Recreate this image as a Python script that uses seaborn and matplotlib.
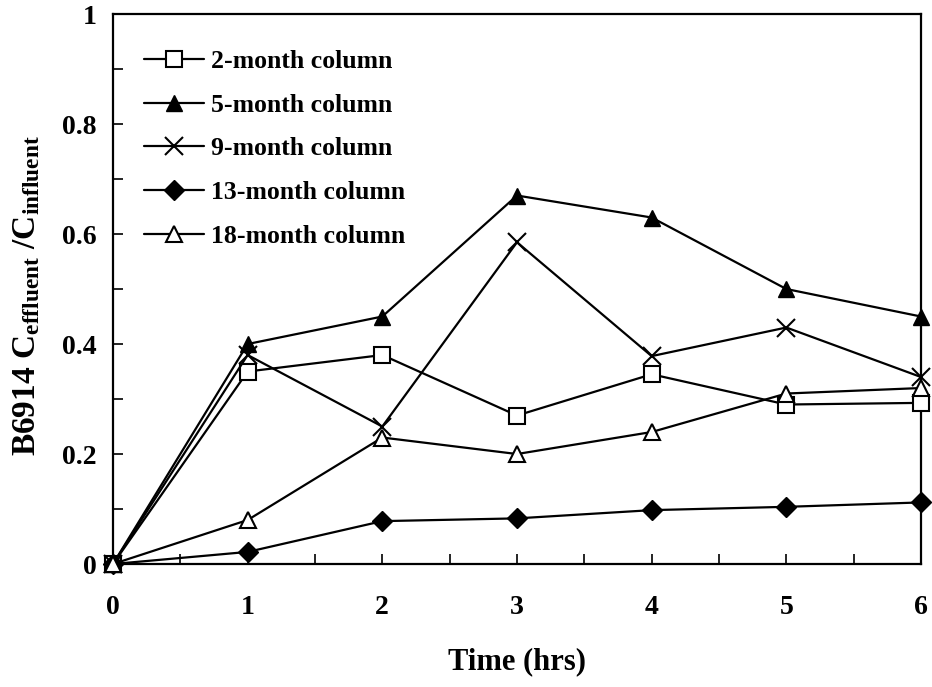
import numpy as np
import pandas as pd
import matplotlib
matplotlib.use("Agg")
import matplotlib.pyplot as plt
import seaborn as sns

# Sampling times (hrs)
time_hrs = [0, 1, 2, 3, 4, 5, 6]

# Effluent/influent concentration ratio for each column age
col_2_month = [0.0, 0.35, 0.38, 0.27, 0.345, 0.29, 0.293]
col_5_month = [0.0, 0.40, 0.45, 0.67, 0.63, 0.50, 0.45]
col_9_month = [0.0, 0.38, 0.25, 0.585, 0.378, 0.43, 0.34]
col_13_month = [0.0, 0.022, 0.078, 0.083, 0.098, 0.104, 0.112]
col_18_month = [0.0, 0.08, 0.23, 0.20, 0.24, 0.31, 0.32]

series_labels = ["2-month column", "5-month column", "9-month column",
                 "13-month column", "18-month column"]
series_values = [col_2_month, col_5_month, col_9_month, col_13_month, col_18_month]

sns.set_theme(style="white")
plt.rcParams["font.family"] = ["Liberation Serif", "DejaVu Serif"]
plt.rcParams["font.weight"] = "bold"
plt.rcParams["text.color"] = "black"
plt.rcParams["axes.labelcolor"] = "black"
plt.rcParams["mathtext.fontset"] = "custom"
plt.rcParams["mathtext.rm"] = "Liberation Serif:bold"
plt.rcParams["mathtext.it"] = "Liberation Serif:bold"
plt.rcParams["mathtext.bf"] = "Liberation Serif:bold"
plt.rcParams["mathtext.default"] = "rm"

fig = plt.figure(figsize=(9.32, 6.87), dpi=100)
ax = fig.add_axes([0.1212, 0.179, 0.867, 0.8006])

styles = [
    dict(marker="s", markersize=11, markerfacecolor="white", markeredgewidth=1.5),
    dict(marker="^", markersize=12, markerfacecolor="black", markeredgewidth=1.0),
    dict(marker="x", markersize=13, markeredgewidth=1.5),
    dict(marker="D", markersize=10, markerfacecolor="black", markeredgewidth=1.0),
    dict(marker="^", markersize=12, markerfacecolor="white", markeredgewidth=1.5),
]

for label, vals, st in zip(series_labels, series_values, styles):
    df = pd.DataFrame({"time": time_hrs, "ratio": vals})
    sns.lineplot(data=df, x="time", y="ratio", ax=ax, color="black",
                 linewidth=1.6, markeredgecolor="black", label=label,
                 clip_on=False, zorder=3, **st)

ax.set_xlim(0, 6)
ax.set_ylim(0, 1)
ax.set_xticks(np.arange(0, 7, 1))
ax.set_xticks(np.arange(0, 6.01, 0.5), minor=True)
ax.set_yticks([0, 0.2, 0.4, 0.6, 0.8, 1.0])
ax.set_yticklabels(["0", "0.2", "0.4", "0.6", "0.8", "1"])
ax.set_yticks(np.arange(0, 1.01, 0.1), minor=True)
ax.tick_params(which="both", direction="in", length=7, width=1.2, colors="black",
               labelsize=20, bottom=True, left=True, top=False, right=False)
ax.tick_params(axis="x", which="major", pad=22)
ax.tick_params(axis="y", which="major", pad=12)
for lab in ax.get_xticklabels() + ax.get_yticklabels():
    lab.set_fontweight("bold")

for sp in ax.spines.values():
    sp.set_color("black")
    sp.set_linewidth(1.6)

ax.set_xlabel("Time (hrs)", fontsize=22, fontweight="bold", labelpad=20)
ax.set_ylabel(r"B6914 C$_{effluent}$ /C$_{influent}$", fontsize=24,
              fontweight="bold", labelpad=14)
ax.yaxis.set_label_coords(-0.087, 0.488)

leg = ax.legend(loc="upper left", bbox_to_anchor=(0.0, 0.99), frameon=False,
                prop={"family": "Liberation Serif", "weight": "bold", "size": 18.5},
                handlelength=2.35, labelspacing=0.8, handletextpad=0.27,
                borderaxespad=0.8, markerscale=1.0)
for t in leg.get_texts():
    t.set_color("black")

fig.savefig("out.png", dpi=100)
